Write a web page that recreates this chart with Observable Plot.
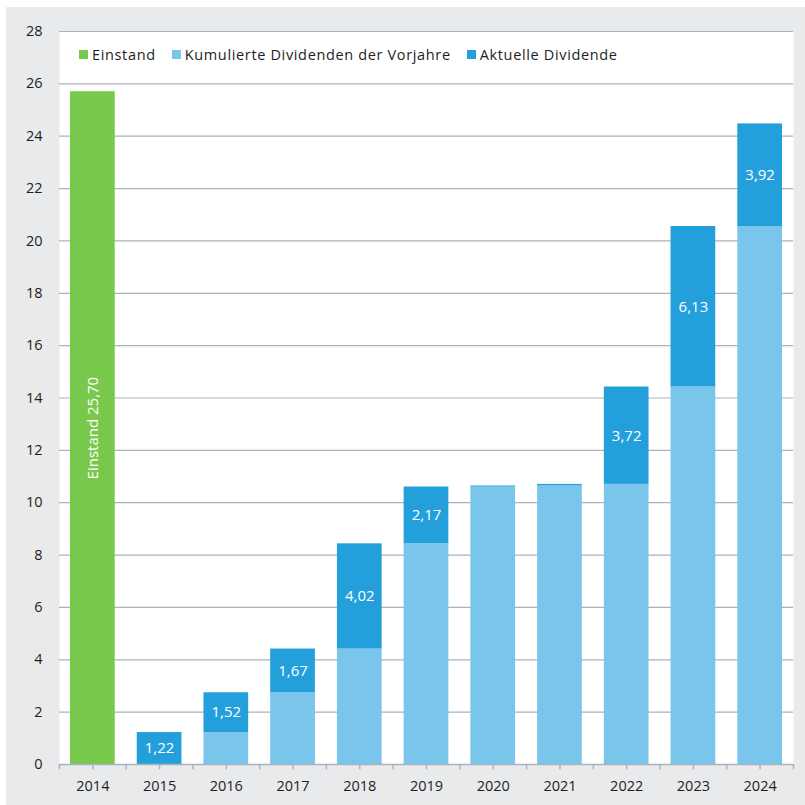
<!DOCTYPE html>
<html>
<head>
<meta charset="utf-8">
<script src="https://cdn.jsdelivr.net/npm/d3@7"></script>
<script src="https://cdn.jsdelivr.net/npm/@observablehq/plot@0.6"></script>
<style>
  html, body { margin: 0; padding: 0; background: #ffffff; overflow: hidden; }
  #panel { position: absolute; left: 6px; top: 7px; width: 799px; height: 798px; background: #e9eaec; font-family: "Open Sans", sans-serif; overflow: hidden; }
  #chart svg { display: block; }
  #legend { position: absolute; left: 73px; top: 38px; display: flex; gap: 16px; font-size: 14.5px; color: #1e1e1e; letter-spacing: 0.65px; }
  #legend span.item { display: flex; align-items: center; }
  #legend i { display: inline-block; width: 9px; height: 9px; margin-right: 4px; }
</style>
</head>
<body>
<div id="panel"><div id="chart"></div><div id="legend"></div></div>
<script>
const years = ["2014","2015","2016","2017","2018","2019","2020","2021","2022","2023","2024"];
const einstand = [25.70, 0, 0, 0, 0, 0, 0, 0, 0, 0, 0];
const kumuliert = [0, 0, 1.22, 2.74, 4.41, 8.43, 10.60, 10.64, 10.70, 14.42, 20.55];
const aktuell = [0, 1.22, 1.52, 1.67, 4.02, 2.17, 0.04, 0.06, 3.72, 6.13, 3.92];
const seriesNames = ["Einstand", "Kumulierte Dividenden der Vorjahre", "Aktuelle Dividende"];
const seriesColors = ["#78c94b", "#79c5eb", "#239fdb"];
const yTicks = [0, 2, 4, 6, 8, 10, 12, 14, 16, 18, 20, 22, 24, 26, 28];

const fmt = v => v.toFixed(2).replace(".", ",");

const rows = [];
years.forEach((yr, i) => {
  rows.push({year: yr, series: seriesNames[0], value: einstand[i]});
  rows.push({year: yr, series: seriesNames[1], value: kumuliert[i]});
  rows.push({year: yr, series: seriesNames[2], value: aktuell[i]});
});

const W = 799, H = 798;
const mL = 53, mR = 12, mT = 24, mB = 41;
const step = (W - mL - mR) / years.length;

const axisColor = "#a9b3bd";

const chart = Plot.plot({
  width: W,
  height: H,
  marginLeft: mL,
  marginRight: mR,
  marginTop: mT,
  marginBottom: mB,
  style: {background: "transparent", fontFamily: "Open Sans, sans-serif", fontSize: "14.5px", color: "#1e1e1e", maxWidth: "none"},
  x: {domain: years, paddingInner: 0.33, paddingOuter: 0.165, round: false, label: null},
  y: {domain: [0, 28], label: null},
  color: {domain: seriesNames, range: seriesColors},
  marks: [
    Plot.frame({fill: "white", stroke: null}),
    Plot.ruleY(yTicks.filter(t => t > 0), {y: d => d, stroke: axisColor, strokeWidth: 1.2}),
    Plot.axisY(yTicks, {tickSize: 0, tickPadding: 17, fontSize: 14.5, fill: "#1e1e1e"}),
    Plot.barY(rows, {x: "year", y: "value", fill: "series", z: "series", order: seriesNames}),
    Plot.text(rows, Plot.stackY({x: "year", y: "value", z: "series", order: seriesNames,
      text: d => (d.series === seriesNames[2] && d.value > 1) ? fmt(d.value) : null,
      fill: "white", fontSize: 15})),
    Plot.text(rows, Plot.stackY({x: "year", y: "value", z: "series", order: seriesNames,
      text: d => (d.series === seriesNames[0] && d.value > 0) ? "Einstand " + fmt(d.value) : null,
      fill: "white", fontSize: 15, rotate: -90})),
    Plot.ruleY([0], {stroke: axisColor, strokeWidth: 1.5}),
    Plot.ruleX(years, {x: d => d, y1: 0, y2: -0.2, stroke: axisColor, strokeWidth: 1.5, dx: -step / 2, clip: false}),
    Plot.ruleX(years, {x: d => d, y1: 0, y2: -0.2, stroke: axisColor, strokeWidth: 1.5, clip: false}),
    Plot.ruleX(years.slice(-1), {x: d => d, y1: 0, y2: -0.2, stroke: axisColor, strokeWidth: 1.5, dx: step / 2, clip: false}),
    Plot.axisX({tickSize: 0, tickPadding: 16, fontSize: 14.5, fill: "#1e1e1e", letterSpacing: "0.5px"})
  ]
});
document.getElementById("chart").appendChild(chart);

const legend = document.getElementById("legend");
seriesNames.forEach((name, i) => {
  const s = document.createElement("span");
  s.className = "item";
  const sw = document.createElement("i");
  sw.style.background = seriesColors[i];
  s.appendChild(sw);
  s.appendChild(document.createTextNode(name));
  legend.appendChild(s);
});
</script>
</body>
</html>
